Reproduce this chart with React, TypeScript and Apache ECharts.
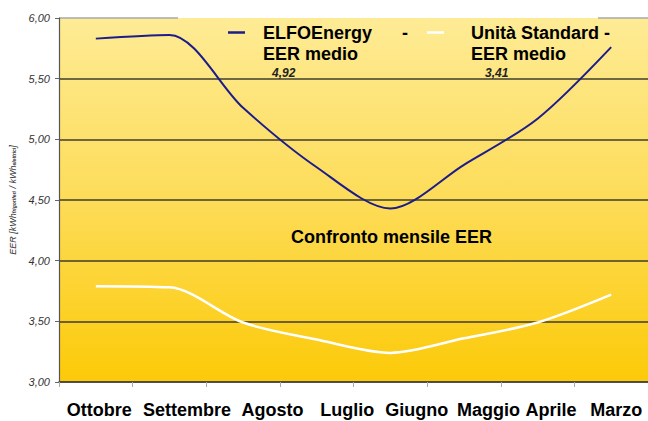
import React, { useEffect, useRef } from "react";
import * as echarts from "echarts";

const categories = ["Ottobre", "Settembre", "Agosto", "Luglio", "Giugno", "Maggio", "Aprile", "Marzo"];
const elfoValues = [5.83, 5.86, 5.26, 4.77, 4.43, 4.79, 5.17, 5.76];
const standardValues = [3.79, 3.78, 3.49, 3.35, 3.24, 3.36, 3.49, 3.72];
const seriesNames = ["ELFOEnergy - EER medio", "Unità Standard - EER medio"];
const legendFirstLines = ["ELFOEnergy      -", "Unità Standard -"];
const legendSecondLine = "EER medio";
const averageLabels = ["4,92", "3,41"];
const chartTitle = "Confronto mensile EER";
const yMin = 3;
const yMax = 6;
const yStep = 0.5;

// label nudges (styling only)
const labelPadLeft = [7, 35, 59, 61, 53, 49, 27, 10];

const FONT = "'Liberation Sans', Arial, sans-serif";

export default function App() {
  const ref = useRef<HTMLDivElement>(null);
  useEffect(() => {
    if (!ref.current) return;
    const chart = echarts.init(ref.current, null, { renderer: "svg" });
    const makeLegend = (i: number, left: number, padA: number, padB: number) => ({
      data: [seriesNames[i]],
      left,
      top: 2,
      padding: 0,
      icon: "rect",
      itemWidth: 17,
      itemHeight: 2.5,
      selectedMode: false,
      formatter: () =>
        `{s| }\n{a|${legendFirstLines[i]}}\n{a|${legendSecondLine}}\n{b|${averageLabels[i]}}`,
      textStyle: {
        color: "#000",
        fontFamily: FONT,
        rich: {
          s: { fontSize: 2, lineHeight: 39 },
          a: { fontSize: 18, fontWeight: "bold", lineHeight: 21, color: "#000", fontFamily: FONT, padding: [0, 0, 0, padA] },
          b: { fontSize: 12, fontWeight: "bold", fontStyle: "italic", lineHeight: 17, color: "#222", fontFamily: FONT, padding: [0, 0, 0, padB] },
        },
      },
    });
    const option: any = {
      animation: false,
      backgroundColor: "#ffffff",
      grid: {
        left: 58,
        top: 18,
        width: 600,
        height: 364,
        show: true,
        borderWidth: 0,
        backgroundColor: {
          type: "linear",
          x: 0,
          y: 0,
          x2: 0,
          y2: 1,
          colorStops: [
            { offset: 0, color: "#feeb95" },
            { offset: 0.5, color: "#fddc58" },
            { offset: 1, color: "#fcca08" },
          ],
        },
      },
      title: {
        text: chartTitle,
        left: 291,
        top: 228,
        padding: 0,
        textStyle: { fontSize: 18, fontWeight: "bold", color: "#000", fontFamily: FONT },
      },
      legend: [makeLegend(0, 228, 13, 22), makeLegend(1, 427, 22, 36)],
      xAxis: {
        type: "category",
        boundaryGap: true,
        data: categories.map((c, i) => ({
          value: c,
          textStyle: { padding: [0, 0, 0, labelPadLeft[i]] },
        })),
        axisLine: { show: true, lineStyle: { color: "#444", width: 1.5 } },
        axisTick: { show: true, length: 5, lineStyle: { color: "#aaa" } },
        axisLabel: {
          interval: 0,
          margin: 19,
          fontSize: 18,
          fontWeight: "bold",
          color: "#000",
          fontFamily: FONT,
        },
        splitLine: { show: false },
      },
      yAxis: {
        type: "value",
        min: yMin,
        max: yMax,
        interval: yStep,
        name: "{n|EER [kWh}{s|frigoriferi}{n| / kWh}{s|elettrici}{n|]}",
        nameLocation: "middle",
        nameRotate: 90,
        nameGap: 42,
        nameTextStyle: {
          fontSize: 9,
          fontStyle: "italic",
          color: "#333",
          fontFamily: FONT,
          rich: {
            n: { fontSize: 9, fontStyle: "italic", color: "#333", fontFamily: FONT },
            s: { fontSize: 5, fontWeight: "bold", color: "#333", fontFamily: FONT, padding: [3, 0, 0, 0] },
          },
        },
        axisLine: { show: true, lineStyle: { color: "#555", width: 1.2 } },
        axisTick: { show: true, length: 4, lineStyle: { color: "#666" } },
        axisLabel: {
          margin: 9,
          fontSize: 11,
          fontStyle: "italic",
          color: "#333",
          fontFamily: FONT,
          formatter: (v: number) => v.toFixed(2).replace(".", ","),
        },
        splitLine: {
          show: true,
          lineStyle: {
            color: ["#3f3c2a", "#3f3c2a", "#3f3c2a", "#3f3c2a", "#3f3c2a", "#3f3c2a", "#a9a9a9"],
            width: 1.5,
          },
        },
      },
      graphic: [
        { type: "rect", z: 1, silent: true, shape: { x: 178, y: 14, width: 420, height: 4 }, style: { fill: "#ffffff" } },
        { type: "rect", z: 1, silent: true, shape: { x: 178, y: 18, width: 420, height: 2 }, style: { fill: "#feeb95" } },
      ],
      series: [
        {
          name: seriesNames[0],
          type: "line",
          data: elfoValues,
          smooth: 0.3,
          symbol: "none",
          color: "#1c1c8a",
          lineStyle: { color: "#1c1c8a", width: 2 },
        },
        {
          name: seriesNames[1],
          type: "line",
          data: standardValues,
          smooth: 0.3,
          symbol: "none",
          color: "#ffffff",
          lineStyle: { color: "#ffffff", width: 2.5 },
        },
      ],
    };
    chart.setOption(option);
    return () => chart.dispose();
  }, []);
  return (
    <div
      ref={ref}
      style={{ position: "fixed", left: 0, top: 0, width: 648, height: 421 }}
    />
  );
}
